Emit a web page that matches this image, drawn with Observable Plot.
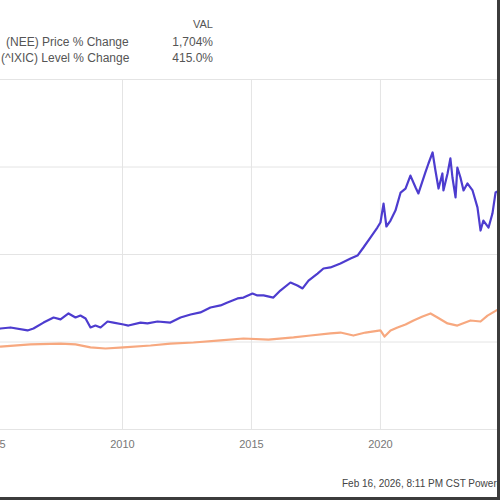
<!DOCTYPE html>
<html><head><meta charset="utf-8">
<script src="https://cdn.jsdelivr.net/npm/d3@7"></script>
<script src="https://cdn.jsdelivr.net/npm/@observablehq/plot@0.6"></script>
<style>
html,body{margin:0;padding:0;background:#fff;width:500px;height:500px;overflow:hidden;font-family:"Liberation Sans",Arial,sans-serif;}
#legend{position:relative;height:70px;width:500px;}
.t{position:absolute;white-space:nowrap;line-height:1;}
#chart{width:500px;height:400px;overflow:hidden;}
#footer{position:relative;height:30px;width:500px;}
#rb{position:absolute;left:497px;top:0;width:3px;height:500px;background:#3c3c3c;}
#bb{position:absolute;left:0;top:497px;width:500px;height:3px;background:#3c3c3c;}
</style></head><body>
<div id="legend">
  <div class="t" style="right:287px;top:19px;font-size:11px;color:#555">VAL</div>
  <div class="t" style="left:6px;top:36px;font-size:12px;color:#555">(NEE) Price % Change</div>
  <div class="t" style="right:287px;top:36px;font-size:12px;color:#555">1,704%</div>
  <div class="t" style="left:1px;top:52px;font-size:12px;color:#555">(^IXIC) Level % Change</div>
  <div class="t" style="right:287px;top:52px;font-size:12px;color:#555">415.0%</div>
</div>
<div id="chart"></div>
<div id="footer"><div class="t" style="left:342px;top:9px;font-size:10px;color:#444">Feb 16, 2026, 8:11 PM CST Powered by YCharts</div></div>
<div id="rb"></div><div id="bb"></div>
<script>
// Series values (decimal years, % change)
const blueYear = [2005.27,2005.66,2006.32,2006.55,2006.94,2007.33,2007.60,2007.91,2008.18,2008.37,2008.57,2008.76,2008.95,2009.15,2009.42,2009.65,2010.04,2010.23,2010.70,2010.97,2011.36,2011.86,2012.25,2012.64,2013.02,2013.41,2013.80,2014.07,2014.46,2014.69,2015.04,2015.23,2015.47,2015.85,2016.12,2016.51,2016.78,2016.98,2017.21,2017.56,2017.79,2018.06,2018.45,2018.84,2019.11,2019.34,2019.61,2019.88,2020.00,2020.12,2020.23,2020.39,2020.58,2020.78,2020.97,2021.16,2021.36,2021.47,2021.74,2021.86,2022.02,2022.13,2022.25,2022.40,2022.44,2022.60,2022.71,2022.79,2022.91,2022.98,2023.10,2023.22,2023.37,2023.57,2023.76,2023.88,2023.99,2024.19,2024.34,2024.46,2024.61];
const blueValue = [577,583,566,577,611,640,629,663,640,651,634,583,594,583,617,611,600,594,611,606,617,611,640,657,669,697,709,726,749,754,777,766,766,754,794,840,823,806,851,891,920,926,949,977,994,1040,1097,1154,1183,1291,1160,1194,1251,1354,1377,1451,1383,1349,1469,1520,1583,1480,1377,1463,1366,1463,1549,1440,1326,1497,1440,1366,1406,1366,1269,1137,1194,1154,1234,1354,1366];
const orangeYear = [2005.27,2006.43,2007.60,2008.18,2008.76,2009.34,2010.04,2011.09,2011.86,2012.75,2013.80,2014.69,2015.66,2016.63,2017.29,2018.06,2018.45,2018.95,2019.42,2020.00,2020.16,2020.39,2020.66,2020.97,2021.28,2021.63,2021.94,2022.21,2022.60,2022.98,2023.49,2023.88,2024.15,2024.61];
const orangeValue = [474,486,491,486,469,463,469,480,491,497,509,520,514,526,537,549,554,537,554,566,531,566,583,600,623,646,663,640,606,594,623,617,651,691];
// Tick labels and gridlines
const tickYears = [2005,2010,2015,2020];
const yGrid = [0,500,1000,1500,2000];

function toDate(y){const yr=Math.floor(y);const s=Date.UTC(yr,0,1),e=Date.UTC(yr+1,0,1);return new Date(s+(y-yr)*(e-s));}
const blue = blueYear.map((y,i)=>({date:toDate(y),value:blueValue[i]}));
const orange = orangeYear.map((y,i)=>({date:toDate(y),value:orangeValue[i]}));

const svg = Plot.plot({
  width:507, height:400,
  marginTop:9, marginBottom:41, marginLeft:0, marginRight:0,
  x:{type:"utc", domain:[toDate(2005),toDate(2025)], range:[0,516]},
  y:{domain:[0,2000], axis:null},
  marks:[
    Plot.ruleY(yGrid,{stroke:"#e4e4e4",strokeWidth:1}),
    Plot.ruleX(tickYears.slice(1).map(toDate),{y1:0,y2:2000,stroke:"#e4e4e4",strokeWidth:1}),
    Plot.line(orange,{x:"date",y:"value",stroke:"#f7a87f",strokeWidth:2.2,clip:true}),
    Plot.line(blue,{x:"date",y:"value",stroke:"#4d3ccf",strokeWidth:2.2,clip:true}),
    Plot.axisX(tickYears.map(toDate),{tickSize:0,tickPadding:11,tickFormat:d3.utcFormat("%Y"),fontSize:11,fill:"#777"})
  ]
});
svg.style.maxWidth="none";
svg.style.marginLeft="-7px";
svg.style.overflow="hidden";
svg.style.fontFamily='"Liberation Sans",Arial,sans-serif';
document.getElementById("chart").appendChild(svg);
</script>
</body></html>
